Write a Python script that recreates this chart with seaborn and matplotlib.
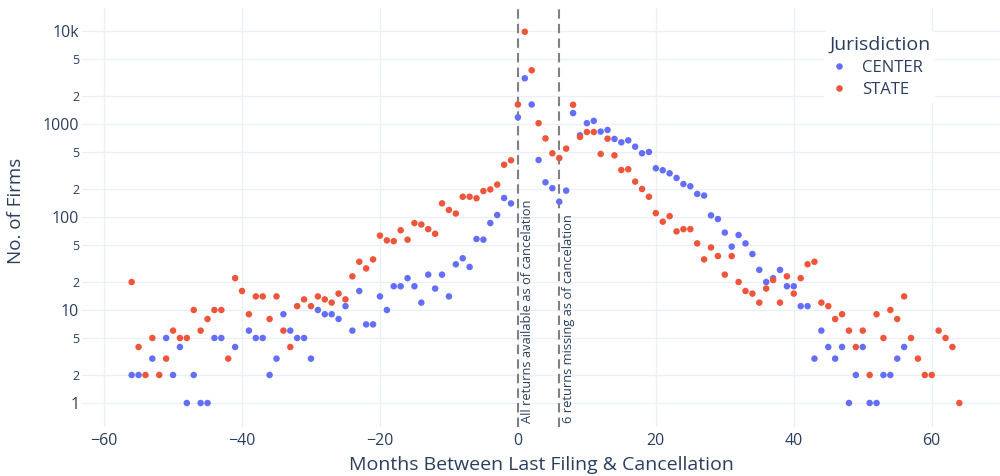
import matplotlib
matplotlib.use("Agg")
import matplotlib.pyplot as plt
from matplotlib.ticker import NullLocator
import pandas as pd
import seaborn as sns

# Firms by months between last return filed and registration cancellation
center_months = [
    -56, -55, -53, -51, -50, -49, -48, -47, -46, -45, -44, -43, -41, -39, -38,
    -37, -36, -35, -34, -33, -32, -31, -30, -29, -28, -27, -26, -25, -24, -23,
    -22, -21, -20, -19, -18, -17, -16, -15, -14, -13, -12, -11, -10, -9, -8,
    -7, -6, -5, -4, -3, -2, -1, 0, 1, 2, 3, 4, 5, 6, 7,
    8, 9, 10, 11, 12, 13, 14, 15, 16, 17, 18, 19, 20, 21, 22,
    23, 24, 25, 26, 27, 28, 29, 30, 31, 32, 33, 34, 35, 36, 37,
    38, 39, 40, 41, 42, 43, 44, 45, 46, 47, 48, 49, 50, 51, 52,
    53, 54, 55, 56,
]
center_counts = [
    2, 2, 3, 5, 2, 4, 1, 2, 1, 1, 5, 5, 4, 6, 5,
    5, 2, 3, 9, 6, 5, 5, 3, 10, 9, 9, 8, 11, 6, 16,
    7, 7, 14, 10, 18, 18, 22, 18, 12, 24, 17, 24, 14, 31, 36,
    29, 58, 57, 86, 105, 160, 140, 1180, 3100, 1620, 410, 236, 204, 146, 192,
    1310, 755, 1020, 1080, 828, 862, 690, 635, 667, 570, 484, 500, 334, 318, 295,
    263, 226, 214, 177, 170, 104, 95, 68, 48, 64, 52, 40, 27, 20, 22,
    27, 18, 18, 11, 11, 3, 6, 4, 3, 4, 1, 2, 4, 1, 1,
    2, 2, 3, 4,
]

state_months = list(range(-56, 65))
state_counts = [
    20, 4, 2, 5, 2, 3, 6, 5, 5, 10,
    6, 8, 10, 10, 3, 22, 16, 9, 14, 14,
    8, 14, 6, 4, 11, 13, 11, 14, 13, 12,
    15, 13, 23, 33, 28, 35, 63, 56, 55, 72,
    57, 86, 83, 74, 66, 140, 119, 109, 165, 165,
    159, 190, 198, 223, 365, 407, 1620, 9800, 3780, 1020,
    700, 484, 430, 543, 1610, 725, 820, 820, 476, 695,
    460, 320, 326, 240, 200, 165, 110, 89, 102, 70,
    74, 74, 52, 35, 47, 38, 24, 38, 20, 16,
    15, 12, 17, 21, 12, 23, 15, 22, 31, 33,
    12, 11, 8, 9, 6, 4, 6, 2, 9, 5,
    10, 8, 14, 5, 3, 2, 2, 6, 5, 4, 1,
]

jurisdictions = ["CENTER", "STATE"]
colors = ["#636efa", "#EF553B"]

y_tick_values = [1, 2, 5, 10, 20, 50, 100, 200, 500, 1000, 2000, 5000, 10000]
y_tick_labels = ["1", "2", "5", "10", "2", "5", "100", "2", "5", "1000", "2", "5", "10k"]
x_tick_values = [-60, -40, -20, 0, 20, 40, 60]

df = pd.concat(
    [
        pd.DataFrame({"months": center_months, "firms": center_counts, "Jurisdiction": "CENTER"}),
        pd.DataFrame({"months": state_months, "firms": state_counts, "Jurisdiction": "STATE"}),
    ],
    ignore_index=True,
)

sns.set_theme(style="white")
plt.rcParams["font.family"] = ["Open Sans", "DejaVu Sans"]
INK = "#2a3f5f"
GRID = "#EBF0F8"

W, H = 1000, 476
fig = plt.figure(figsize=(W / 100, H / 100), dpi=100)
left, right, top, bottom = 82, 1000, 8, 427
ax = fig.add_axes([left / W, 1 - bottom / H, (right - left) / W, (bottom - top) / H])
ax.set_yscale("log")

sns.scatterplot(
    data=df, x="months", y="firms", hue="Jurisdiction",
    hue_order=jurisdictions, palette=dict(zip(jurisdictions, colors)),
    s=22, linewidth=0, ax=ax, zorder=3,
)

ax.set_xlim(-63.2, 69.9)
ax.set_ylim(0.552, 17660)

# grid and axes styling
for sp in ax.spines.values():
    sp.set_visible(False)
ax.set_axisbelow(True)
ax.grid(True, color=GRID, linewidth=1)

ax.set_xticks(x_tick_values)
ax.yaxis.set_minor_locator(NullLocator())
ax.set_yticks(y_tick_values)
ax.set_yticklabels(y_tick_labels)
for lbl in ax.get_yticklabels():
    lbl.set_fontsize(11.5 if lbl.get_text() not in ("2", "5") else 9)
ax.tick_params(axis="y", length=0, pad=2, colors=INK)
ax.tick_params(axis="x", length=0, pad=4, labelsize=11.5, colors=INK)

ax.set_xlabel("Months Between Last Filing & Cancellation", fontsize=14, color=INK)
ax.xaxis.set_label_coords(0.5, -(465 - bottom) / (bottom - top))
ax.xaxis.label.set_va("center")
ax.set_ylabel("No. of Firms", fontsize=13.5, color=INK)
ax.yaxis.set_label_coords((16 - left) / (right - left), (bottom - 211) / (bottom - top))
ax.yaxis.label.set_va("center")

# reference lines at cancellation month and six months later
for xv, txt in [(0, "All returns available as of cancelation"),
                (6, "6 returns missing as of cancelation")]:
    ax.axvline(xv, color="gray", lw=1.5, ls=(0, (4.5, 2.5)), zorder=2)
    ax.annotate(txt, xy=(xv, 0), xycoords=("data", "axes fraction"),
                xytext=(2, 3), textcoords="offset points", rotation=90,
                ha="left", va="bottom", fontsize=9.3, color=INK, zorder=4)

handles, labels = ax.get_legend_handles_labels()
leg = ax.legend(
    handles, labels, title="Jurisdiction", loc="upper left",
    bbox_to_anchor=(824 / W, 1 - 31 / H), bbox_transform=fig.transFigure,
    borderaxespad=0, frameon=True, facecolor="white", edgecolor="none",
    framealpha=1, fontsize=12, title_fontsize=14, handlelength=1.2,
    handletextpad=0.8, labelspacing=0.35, borderpad=0.3, alignment="left",
)
for t in leg.get_texts():
    t.set_color(INK)
leg.get_title().set_color(INK)
leg.set_zorder(5)

fig.savefig("out.png", dpi=100)
